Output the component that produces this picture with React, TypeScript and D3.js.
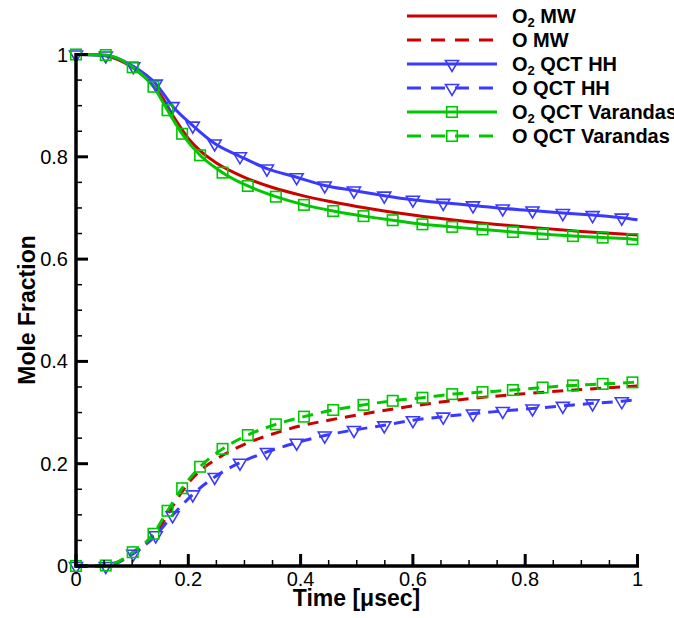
import React from "react";
import * as d3 from "d3";

const W = 674;
const H = 618;

// Tick values
const xMajorTicks = [0, 0.2, 0.4, 0.6, 0.8, 1];
const yMajorTicks = [0, 0.2, 0.4, 0.6, 0.8, 1];
const xTickLabels = ["0", "0.2", "0.4", "0.6", "0.8", "1"];
const yTickLabels = ["0", "0.2", "0.4", "0.6", "0.8", "1"];

// MW (red) – no markers
const mwTime = [0, 0.025, 0.05, 0.075, 0.1, 0.125, 0.15, 0.175, 0.2, 0.225, 0.25, 0.3, 0.35, 0.4, 0.45, 0.5, 0.6, 0.7, 0.8, 0.9, 1.0];
const mwO2 = [1.0, 1.0, 0.998, 0.99, 0.975, 0.953, 0.922, 0.876, 0.836, 0.808, 0.788, 0.760, 0.740, 0.725, 0.713, 0.703, 0.686, 0.673, 0.663, 0.654, 0.647];
const mwO = [0, 0, 0.002, 0.008, 0.024, 0.046, 0.077, 0.122, 0.162, 0.19, 0.209, 0.238, 0.258, 0.274, 0.285, 0.295, 0.313, 0.327, 0.337, 0.345, 0.352];

// QCT HH (blue) – triangles (last point is line end only)
const hhTime = [0, 0.053, 0.102, 0.142, 0.172, 0.208, 0.247, 0.292, 0.340, 0.393, 0.443, 0.495, 0.549, 0.600, 0.654, 0.707, 0.760, 0.813, 0.867, 0.920, 0.972, 1.0];
const hhO2 = [1.0, 0.998, 0.977, 0.943, 0.899, 0.861, 0.826, 0.801, 0.777, 0.760, 0.744, 0.734, 0.724, 0.716, 0.710, 0.705, 0.699, 0.695, 0.690, 0.686, 0.681, 0.677];
const hhO = [0, 0, 0.024, 0.060, 0.099, 0.140, 0.174, 0.202, 0.223, 0.241, 0.255, 0.266, 0.275, 0.285, 0.292, 0.298, 0.303, 0.308, 0.313, 0.318, 0.322, 0.325];

// QCT Varandas (green) – squares (last point is line end only)
const varTime = [0, 0.053, 0.101, 0.138, 0.163, 0.189, 0.221, 0.261, 0.306, 0.356, 0.406, 0.458, 0.512, 0.564, 0.617, 0.670, 0.724, 0.778, 0.831, 0.885, 0.938, 0.991, 1.0];
const varO2 = [1.0, 0.999, 0.975, 0.937, 0.891, 0.845, 0.803, 0.769, 0.743, 0.722, 0.706, 0.694, 0.684, 0.676, 0.668, 0.663, 0.658, 0.653, 0.649, 0.645, 0.642, 0.639, 0.638];
const varO = [0, 0.001, 0.027, 0.063, 0.108, 0.152, 0.194, 0.229, 0.256, 0.277, 0.292, 0.305, 0.315, 0.323, 0.329, 0.336, 0.340, 0.344, 0.349, 0.353, 0.356, 0.359, 0.360];

const RED = "#cc0000";
const BLUE = "#3a3aff";
const GREEN = "#00c800";
const FONT = "'Liberation Sans', Arial, sans-serif";

const x = d3.scaleLinear().domain([0, 1]).range([76, 637.5]);
const y = d3.scaleLinear().domain([0, 1]).range([566, 54.5]);

type Series = {
  name: string;
  sub: boolean;
  rest: string;
  t: number[];
  v: number[];
  color: string;
  dashed: boolean;
  marker: "none" | "tri" | "sq";
};

const series: Series[] = [
  { name: "O", sub: true, rest: " MW", t: mwTime, v: mwO2, color: RED, dashed: false, marker: "none" },
  { name: "O", sub: false, rest: " MW", t: mwTime, v: mwO, color: RED, dashed: true, marker: "none" },
  { name: "O", sub: true, rest: " QCT HH", t: hhTime, v: hhO2, color: BLUE, dashed: false, marker: "tri" },
  { name: "O", sub: false, rest: " QCT HH", t: hhTime, v: hhO, color: BLUE, dashed: true, marker: "tri" },
  { name: "O", sub: true, rest: " QCT Varandas", t: varTime, v: varO2, color: GREEN, dashed: false, marker: "sq" },
  { name: "O", sub: false, rest: " QCT Varandas", t: varTime, v: varO, color: GREEN, dashed: true, marker: "sq" },
];

const DASH = "11,8";

function Marker({ kind, cx, cy, color }: { kind: string; cx: number; cy: number; color: string }) {
  if (kind === "tri") {
    const hw = 6.5;
    const top = cy - 3.5;
    const bot = cy + 7.5;
    return (
      <path
        d={`M${cx - hw},${top}L${cx + hw},${top}L${cx},${bot}Z`}
        fill="none"
        stroke={color}
        strokeWidth={1.6}
      />
    );
  }
  if (kind === "sq") {
    const s = 10.5;
    return (
      <rect x={cx - s / 2} y={cy - s / 2} width={s} height={s} fill="none" stroke={color} strokeWidth={1.6} />
    );
  }
  return null;
}

export default function App() {
  const line = d3
    .line<[number, number]>()
    .x((d) => x(d[0]))
    .y((d) => y(d[1]))
    .curve(d3.curveMonotoneX);

  const xMinor = d3.range(0, 1.0001, 0.05).filter((v) => !xMajorTicks.some((m) => Math.abs(m - v) < 1e-6));
  const yMinor = d3.range(0, 1.0001, 0.05).filter((v) => !yMajorTicks.some((m) => Math.abs(m - v) < 1e-6));

  const legendX0 = 407;
  const legendX1 = 497;
  const legendTextX = 512;
  const legendY0 = 16;
  const legendDy = 24;

  return (
    <svg
      width={W}
      height={H}
      style={{ position: "absolute", left: 0, top: 0, background: "#fff" }}
      fontFamily={FONT}
    >
      <rect width={W} height={H} fill="#fff" />

      {/* data lines */}
      {series.map((s, i) => {
        const pts = s.t.map((t, k) => [t, s.v[k]] as [number, number]);
        return (
          <path
            key={"l" + i}
            d={line(pts) || ""}
            fill="none"
            stroke={s.color}
            strokeWidth={3}
            strokeDasharray={s.dashed ? DASH : undefined}
          />
        );
      })}
      {/* markers */}
      {series.map((s, i) =>
        s.marker === "none"
          ? null
          : s.t.slice(0, s.t.length - 1).map((t, k) => (
              <Marker key={`m${i}-${k}`} kind={s.marker} cx={x(t)} cy={y(s.v[k])} color={s.color} />
            ))
      )}

      {/* axes */}
      <g stroke="#000">
        <line x1={x(0)} x2={x(0)} y1={y(0) + 1.5} y2={y(1) - 1.5} strokeWidth={3.5} />
        <line x1={x(0) - 1.5} x2={x(1) + 1.5} y1={y(0)} y2={y(0)} strokeWidth={3.5} />
        {yMajorTicks.map((v) => (
          <line key={"ym" + v} x1={x(0)} x2={x(0) + 12} y1={y(v)} y2={y(v)} strokeWidth={3} />
        ))}
        {yMinor.map((v) => (
          <line key={"yn" + v} x1={x(0)} x2={x(0) + 6} y1={y(v)} y2={y(v)} strokeWidth={1.5} />
        ))}
        {xMajorTicks.map((v) => (
          <line key={"xm" + v} x1={x(v)} x2={x(v)} y1={y(0)} y2={y(0) - 12} strokeWidth={3} />
        ))}
        {xMinor.map((v) => (
          <line key={"xn" + v} x1={x(v)} x2={x(v)} y1={y(0)} y2={y(0) - 6} strokeWidth={1.5} />
        ))}
      </g>

      {/* tick labels */}
      {yMajorTicks.map((v, i) => (
        <text key={"yl" + v} x={68} y={y(v)} dy="0.35em" textAnchor="end" fontSize={20} fill="#000">
          {yTickLabels[i]}
        </text>
      ))}
      {xMajorTicks.map((v, i) => (
        <text key={"xl" + v} x={x(v)} y={586} textAnchor="middle" fontSize={20} fill="#000">
          {xTickLabels[i]}
        </text>
      ))}

      {/* axis titles */}
      <text x={356.5} y={606} textAnchor="middle" fontSize={23} fontWeight="bold" fill="#000">
        Time [μsec]
      </text>
      <text
        transform={`translate(35,310) rotate(-90)`}
        textAnchor="middle"
        fontSize={23}
        fontWeight="bold"
        fill="#000"
      >
        Mole Fraction
      </text>

      {/* legend */}
      {series.map((s, i) => {
        const ly = legendY0 + i * legendDy;
        return (
          <g key={"lg" + i}>
            <line
              x1={legendX0}
              x2={legendX1}
              y1={ly}
              y2={ly}
              stroke={s.color}
              strokeWidth={3}
              strokeDasharray={s.dashed ? "14,10" : undefined}
            />
            {s.marker !== "none" && (
              <Marker kind={s.marker} cx={(legendX0 + legendX1) / 2} cy={ly} color={s.color} />
            )}
            <text x={legendTextX} y={ly + 7} fontSize={20} fontWeight="bold" fill="#000">
              {s.name}
              {s.sub && (
                <tspan fontSize={13} dy={4}>
                  2
                </tspan>
              )}
              <tspan dy={s.sub ? -4 : 0}>{s.rest}</tspan>
            </text>
          </g>
        );
      })}
    </svg>
  );
}
